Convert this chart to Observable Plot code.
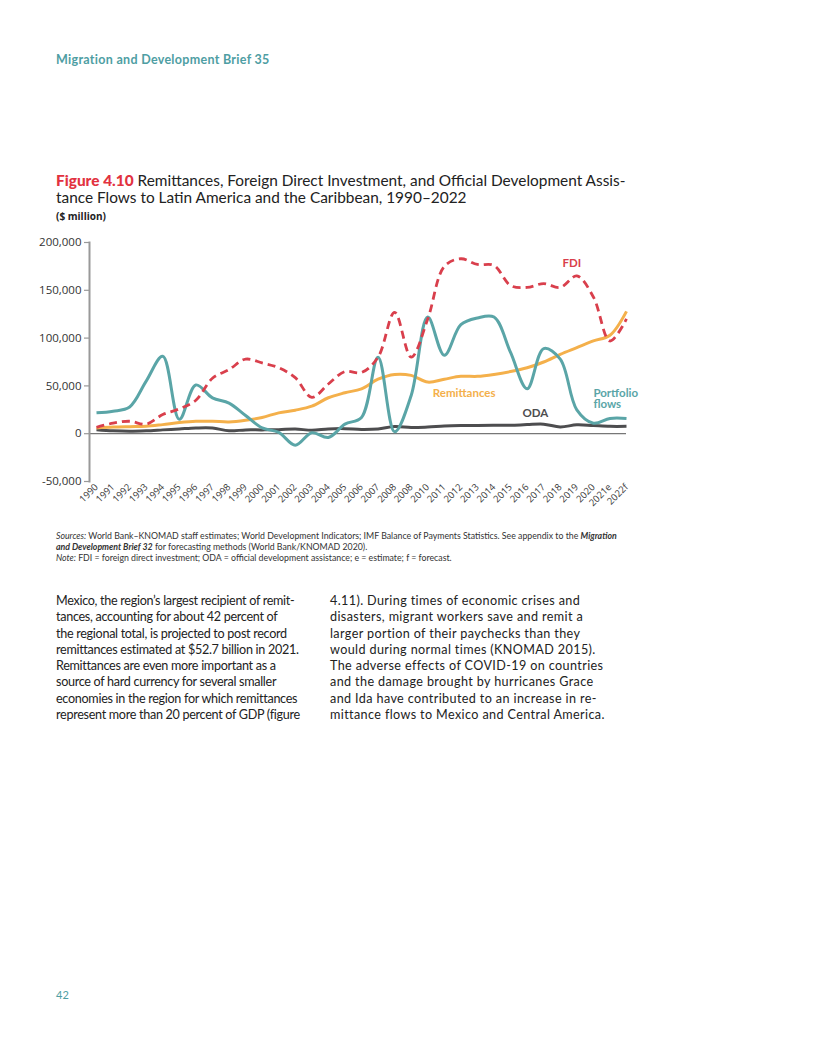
<!DOCTYPE html>
<html>
<head>
<meta charset="utf-8">
<script src="https://cdn.jsdelivr.net/npm/d3@7"></script>
<script src="https://cdn.jsdelivr.net/npm/@observablehq/plot@0.6"></script>
<style>
  html, body { margin: 0; padding: 0; background: #fff; }
  body { width: 816px; height: 1056px; position: relative; font-family: Lato, "Open Sans", sans-serif; color: #222; }
  .abs { position: absolute; }
  #header { left: 56px; top: 52px; font-size: 12.5px; font-weight: 700; color: #4e9ea3; letter-spacing: 0.3px; }
  #title { left: 56px; top: 172px; font-size: 15.4px; line-height: 17px; color: #222; white-space: nowrap; }
  #title b { color: #e2323f; font-weight: 900; }
  #unit { left: 56px; top: 209px; font-size: 10px; font-weight: 700; color: #222; font-family: "Open Sans", sans-serif; }
  #chart { left: 0; top: 230px; }
  #notes { left: 56px; top: 531px; font-size: 8.75px; line-height: 10.9px; color: #333; white-space: nowrap; }
  .col { top: 593px; font-size: 12.6px; line-height: 16.3px; color: #222; white-space: nowrap; }
  #col1 { left: 56px; letter-spacing: -0.3px; }
  #col2 { left: 330px; letter-spacing: 0.38px; }
  #page { left: 56px; top: 988px; font-size: 11px; color: #4e9ea3; }
</style>
</head>
<body>
<div id="header" class="abs">Migration and Development Brief 35</div>
<div id="title" class="abs"><b>Figure 4.10</b> Remittances, Foreign Direct Investment, and Official Development Assis-<br>tance Flows to Latin America and the Caribbean, 1990–2022</div>
<div id="unit" class="abs">($ million)</div>
<div id="chart" class="abs"></div>
<div id="notes" class="abs"><i>Sources:</i> World Bank–KNOMAD staff estimates; World Development Indicators; IMF Balance of Payments Statistics. See appendix to the <b><i>Migration</i></b><br><b><i>and Development Brief 32</i></b> for forecasting methods (World Bank/KNOMAD 2020).<br><i>Note:</i> FDI = foreign direct investment; ODA = official development assistance; e = estimate; f = forecast.</div>
<div id="col1" class="abs col">Mexico, the region’s largest recipient of remit-<br>tances, accounting for about 42 percent of<br>the regional total, is projected to post record<br>remittances estimated at $52.7 billion in 2021.<br>Remittances are even more important as a<br>source of hard currency for several smaller<br>economies in the region for which remittances<br>represent more than 20 percent of GDP (figure</div>
<div id="col2" class="abs col">4.11). During times of economic crises and<br>disasters, migrant workers save and remit a<br>larger portion of their paychecks than they<br>would during normal times (KNOMAD 2015).<br>The adverse effects of COVID-19 on countries<br>and the damage brought by hurricanes Grace<br>and Ida have contributed to an increase in re-<br>mittance flows to Mexico and Central America.</div>
<div id="page" class="abs">42</div>
<script>
// ---- Data ($ million) ----
const xLabels = ["1990","1991","1992","1993","1994","1995","1996","1997","1998","1999",
  "2000","2001","2002","2003","2004","2005","2006","2007","2008","2008","2010","2011",
  "2012","2013","2014","2015","2016","2017","2018","2019","2020","2021e","2022f"];

const remittances = [6000, 7000, 7400, 7700, 9500, 11600, 13000, 13000, 12300, 14000,
  17000, 21800, 24600, 28800, 37600, 42800, 47000, 57000, 62000, 61000, 54000, 57000,
  60000, 60000, 62000, 65000, 69000, 75000, 83000, 90000, 97000, 103000, 128000];

const fdi = [6700, 11000, 13000, 10000, 20000, 26000, 35000, 58000, 67000, 78000,
  74000, 69000, 58600, 38000, 52000, 65000, 64000, 80000, 127000, 80000, 120000, 175000,
  183000, 177000, 176000, 155000, 153000, 157000, 153000, 165000, 143000, 97000, 120000];

const portfolio = [21800, 23500, 28000, 55000, 81000, 15000, 51000, 37500, 32000, 19000,
  6000, 1400, -12000, 1000, -4000, 10000, 17000, 80000, 2000, 40000, 122000, 82000,
  114000, 121000, 122000, 85000, 47000, 89000, 78000, 25000, 11000, 16000, 16000];

const oda = [4200, 3000, 2500, 3000, 4000, 5000, 6000, 6000, 3000, 4000,
  4000, 4200, 5000, 3500, 5000, 5300, 4500, 5000, 7500, 6500, 7000, 8000,
  8500, 8700, 8800, 8800, 9500, 10000, 7000, 9300, 8500, 7700, 7700];

const yTicks = [-50000, 0, 50000, 100000, 150000, 200000];

const seriesNames = ["ODA", "Remittances", "Portfolio flows", "FDI"];
const seriesValues = [oda, remittances, portfolio, fdi];
const seriesColors = ["#4d4d4f", "#f4b04b", "#5aa5a7", "#d93f4c"];

// label annotations (position in data space)
const annoText = ["FDI", "Remittances", "ODA"];
const annoX = [28.7, 22.2, 26.5];
const annoY = [178000, 42000, 21500];
const annoColor = ["#d93f4c", "#f4b04b", "#4d4d4f"];
const portfolioLabel = {t: "Portfolio\nflows", x: 30.0, y: 36500, c: "#5aa5a7"};

// ---- Build table ----
const rows = [];
seriesNames.forEach((name, s) => {
  seriesValues[s].forEach((v, i) => rows.push({series: name, i, value: v}));
});
const annos = annoText.map((t, k) => ({t, x: annoX[k], y: annoY[k], c: annoColor[k]}));

const marks = [
  Plot.ruleY([0], {stroke: "#777", strokeWidth: 1.3}),
  Plot.axisY({ticks: yTicks, tickSize: 5, tickPadding: 3, tickFormat: d => d.toLocaleString("en-US"),
    fontSize: 11.5, fill: "#333", stroke: "#999", strokeWidth: 1.2, label: null, fontFamily: "Open Sans"}),
  Plot.axisX({ticks: d3.range(xLabels.length), tickFormat: i => xLabels[i], tickRotate: -45,
    tickSize: 0, tickPadding: 4, fontSize: 9.5, fill: "#3a3a3a", label: null, fontFamily: "Open Sans"}),
  Plot.frame({anchor: "left", stroke: "#999", strokeWidth: 2})
];

seriesNames.forEach((name, s) => {
  const opts = {x: "i", y: "value", stroke: seriesColors[s], strokeWidth: 3, curve: "catmull-rom",
    strokeLinecap: "butt", strokeLinejoin: "round"};
  if (name === "FDI") { opts.strokeDasharray = "8,5"; opts.strokeWidth = 2.8; }
  marks.push(Plot.line(rows.filter(r => r.series === name), opts));
});

marks.push(Plot.text(annos, {x: "x", y: "y", text: "t", fill: "c", textAnchor: "middle",
  fontSize: 11.5, fontWeight: 700, fontFamily: "Lato"}));
marks.push(Plot.text([portfolioLabel], {x: "x", y: "y", text: "t", fill: "c", textAnchor: "start",
  fontSize: 11.5, fontWeight: 700, lineHeight: 1.0, fontFamily: "Lato"}));

const chart = Plot.plot({
  width: 816,
  height: 290,
  marginLeft: 89,
  marginRight: 190,
  marginTop: 12,
  marginBottom: 39,
  insetLeft: 7,
  x: {type: "linear", domain: [0, xLabels.length - 1]},
  y: {domain: [-50000, 200000]},
  style: {background: "transparent", overflow: "visible"},
  marks
});
document.getElementById("chart").appendChild(chart);
</script>
</body>
</html>
